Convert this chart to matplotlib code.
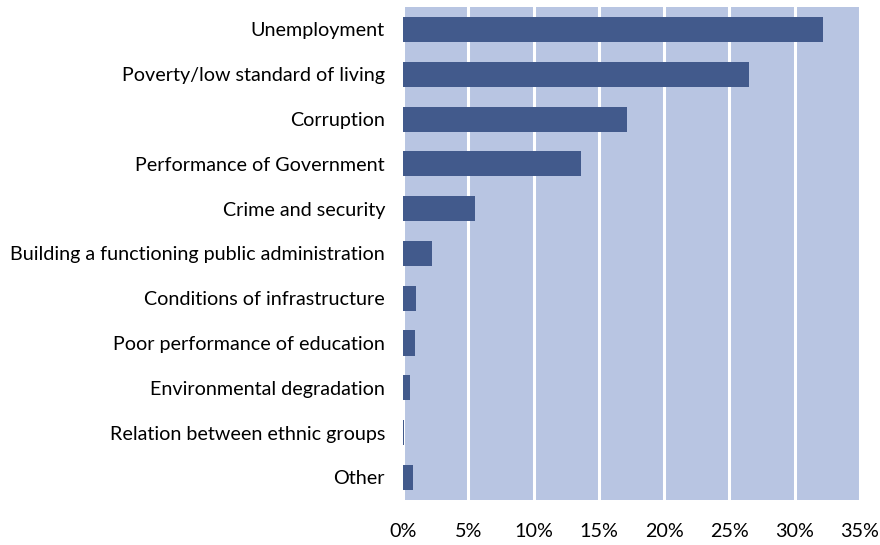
import matplotlib.pyplot as plt
from matplotlib.ticker import PercentFormatter

categories = [
    "Unemployment",
    "Poverty/low standard of living",
    "Corruption",
    "Performance of Government",
    "Crime and security",
    "Building a functioning public administration",
    "Conditions of infrastructure",
    "Poor performance of education",
    "Environmental degradation",
    "Relation between ethnic groups",
    "Other",
]
shares = [32.2, 26.5, 17.2, 13.6, 5.5, 2.2, 1.0, 0.9, 0.5, 0.1, 0.8]
xticks = [0, 5, 10, 15, 20, 25, 30, 35]

plt.rcParams["font.family"] = ["Lato", "DejaVu Sans"]

fig = plt.figure(figsize=(8.8, 5.45), dpi=100)
ax = fig.add_axes([0.458, 0.083, 0.519, 0.904])
ax.set_facecolor("#B8C5E2")

ypos = range(len(categories))
ax.barh(ypos, shares, height=0.56, color="#425A8C", zorder=3)

ax.set_xlim(0, 35)
ax.set_ylim(len(categories) - 0.5, -0.5)
ax.set_xticks(xticks)
ax.xaxis.set_major_formatter(PercentFormatter(decimals=0))
ax.set_yticks(list(ypos))
ax.set_yticklabels(categories)

ax.grid(axis="x", color="white", linewidth=2.2, zorder=1)
ax.tick_params(axis="both", length=0, labelsize=14.2, colors="#000000")
ax.tick_params(axis="x", pad=17)
ax.tick_params(axis="y", pad=13)
for s in ax.spines.values():
    s.set_visible(False)

fig.savefig("out.png", dpi=100)
